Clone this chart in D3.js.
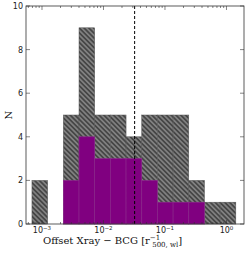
<!DOCTYPE html>
<html>
<head>
<meta charset="utf-8">
<script src="https://cdn.jsdelivr.net/npm/d3@7"></script>
<style>
  body { margin: 0; background: #fff; }
  svg { display: block; }
</style>
</head>
<body>
<div id="graph"></div>
<script>
// histogram of X-ray / BCG offsets, full sample (hatched) and subsample (purple)
var binEdges = [0.000687, 0.001236, 0.002223, 0.0040, 0.00719, 0.01294, 0.02328,
                0.0419, 0.0753, 0.1355, 0.2438, 0.4385, 0.789, 1.419];
var allCounts = [2, 0, 5, 9, 5, 5, 4, 5, 5, 5, 2, 1, 1];
var subCounts = [0, 0, 2, 4, 3, 3, 3, 2, 1, 1, 1, 0, 0];
var medianOffset = 0.0321;
var xTicks = [1e-3, 1e-2, 1e-1, 1e0];
var xTickExp = ["\u22123", "\u22122", "\u22121", "0"];
var yTicks = [0, 2, 4, 6, 8, 10];

var width = 249, height = 253,
    margin = {"top": 6, "right": 5, "bottom": 29, "left": 26},
    plot_w = width - margin.left - margin.right,
    plot_h = height - margin.top - margin.bottom;

var svg = d3.select("#graph").append("svg")
    .attr("width", width)
    .attr("height", height);

var defs = svg.append("defs");
var pat = defs.append("pattern")
    .attr("id", "hatch")
    .attr("patternUnits", "userSpaceOnUse")
    .attr("width", 3.4)
    .attr("height", 3.4)
    .attr("patternTransform", "rotate(-45)");
pat.append("rect").attr("width", 3.4).attr("height", 3.4).attr("fill", "#808080");
pat.append("line")
    .attr("x1", 1.7).attr("y1", 0).attr("x2", 1.7).attr("y2", 3.4)
    .attr("stroke", "#262626").attr("stroke-width", 1.1);

var g = svg.append("g")
    .attr("transform", "translate(" + margin.left + "," + margin.top + ")");

var x = d3.scaleLog()
    .domain([Math.pow(10, -3.26), Math.pow(10, 0.285)])
    .range([0, plot_w]);
var y = d3.scaleLinear().domain([0, 10]).range([plot_h, 0]);

var bins = allCounts.map((c, i) => ({x0: binEdges[i], x1: binEdges[i + 1], all: c, sub: subCounts[i]}));

// full sample
g.selectAll(".allbar")
    .data(bins.filter(d => d.all > 0))
  .enter().append("rect")
    .attr("class", "allbar")
    .attr("x", d => x(d.x0))
    .attr("y", d => y(d.all))
    .attr("width", d => x(d.x1) - x(d.x0))
    .attr("height", d => y(0) - y(d.all))
    .attr("fill", "url(#hatch)")
    .attr("stroke", "#555")
    .attr("stroke-width", 0.5);

// subsample
g.selectAll(".subbar")
    .data(bins.filter(d => d.sub > 0))
  .enter().append("rect")
    .attr("class", "subbar")
    .attr("x", d => x(d.x0))
    .attr("y", d => y(d.sub))
    .attr("width", d => x(d.x1) - x(d.x0))
    .attr("height", d => y(0) - y(d.sub))
    .attr("fill", "#800080")
    .attr("stroke", "#8e2a8e")
    .attr("stroke-width", 0.6);

// dashed line
g.append("line")
    .attr("x1", x(medianOffset)).attr("x2", x(medianOffset))
    .attr("y1", 0).attr("y2", plot_h)
    .attr("stroke", "#000")
    .attr("stroke-width", 1)
    .attr("stroke-dasharray", "3,2");

// frame
g.append("rect")
    .attr("width", plot_w).attr("height", plot_h)
    .attr("fill", "none").attr("stroke", "#333").attr("stroke-width", 0.8);

// minor ticks on log axis
var minor = [];
[-4, -3, -2, -1, 0].forEach(e => {
  for (var k = 2; k <= 9; k++) {
    var v = k * Math.pow(10, e);
    if (v > x.domain()[0] && v < x.domain()[1]) minor.push(v);
  }
});

function ticksAt(sel, vals, len, bottom) {
  sel.selectAll(null).data(vals).enter().append("line")
    .attr("x1", d => x(d)).attr("x2", d => x(d))
    .attr("y1", bottom ? plot_h : 0)
    .attr("y2", bottom ? plot_h - len : len)
    .attr("stroke", "#333").attr("stroke-width", 0.6);
}
ticksAt(g, minor, 2, true);
ticksAt(g, minor, 2, false);
ticksAt(g, xTicks, 4, true);
ticksAt(g, xTicks, 4, false);

g.selectAll(".ytick").data(yTicks).enter().append("line")
    .attr("x1", 0).attr("x2", 4)
    .attr("y1", d => y(d)).attr("y2", d => y(d))
    .attr("stroke", "#333").attr("stroke-width", 0.6);
g.selectAll(".ytickr").data(yTicks).enter().append("line")
    .attr("x1", plot_w).attr("x2", plot_w - 4)
    .attr("y1", d => y(d)).attr("y2", d => y(d))
    .attr("stroke", "#333").attr("stroke-width", 0.6);

// tick labels
g.selectAll(".ylab").data(yTicks).enter().append("text")
    .attr("x", -3)
    .attr("y", d => y(d) + 3)
    .attr("text-anchor", "end")
    .attr("font-family", "DejaVu Sans")
    .attr("font-size", 8)
    .attr("fill", "#222")
    .text(d => d);

var xl = g.selectAll(".xlab").data(xTicks).enter().append("text")
    .attr("x", d => x(d))
    .attr("y", plot_h + 9)
    .attr("text-anchor", "middle")
    .attr("font-family", "DejaVu Sans")
    .attr("font-size", 8)
    .attr("fill", "#222");
xl.append("tspan").text("10");
xl.append("tspan").attr("dy", -3.5).attr("font-size", 5.5).text((d, i) => xTickExp[i]);

// axis titles
svg.append("text")
    .attr("transform", "translate(12,115) rotate(-90)")
    .attr("text-anchor", "middle")
    .attr("font-family", "DejaVu Serif")
    .attr("font-size", 10)
    .attr("fill", "#111")
    .text("N");

var xt = svg.append("text")
    .attr("x", 43)
    .attr("y", 243.5)
    .attr("font-family", "DejaVu Serif")
    .attr("font-size", 10)
    .attr("fill", "#111");
xt.append("tspan").text("Offset Xray \u2212 BCG [r");
xt.append("tspan").attr("dy", -4).attr("font-size", 7).text("\u22121");
xt.append("tspan").attr("dx", -8).attr("dy", 7).attr("font-size", 7).text("500, wl");
xt.append("tspan").attr("dy", -3).text("]");
</script>
</body>
</html>
